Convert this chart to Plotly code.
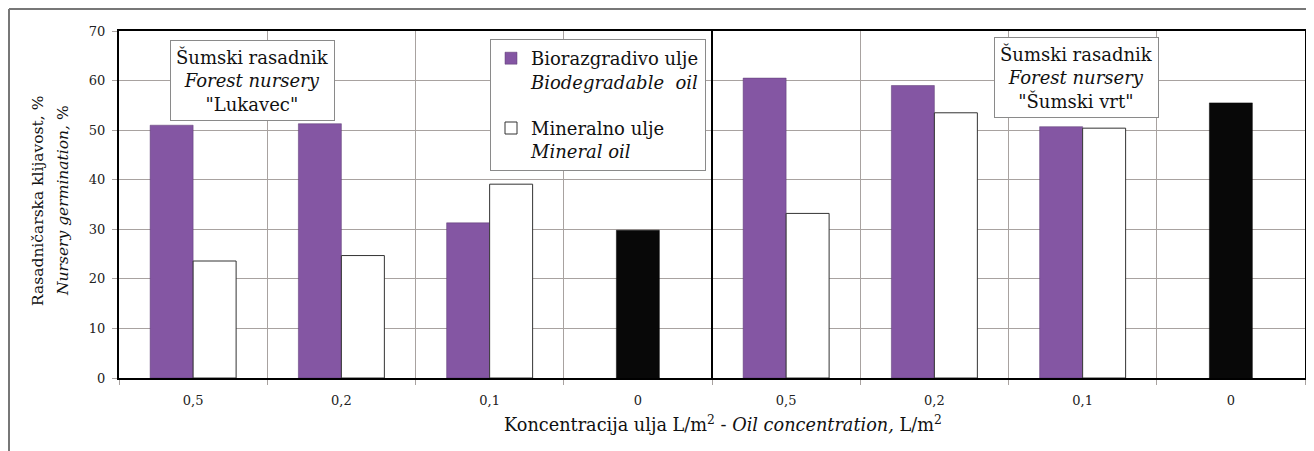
import plotly.graph_objects as go

categories = ["0,5", "0,2", "0,1", "0", "0,5", "0,2", "0,1", "0"]
biodegradable = [51.0, 51.3, 31.3, None, 60.5, 59.0, 50.7, None]
mineral = [23.6, 24.7, 39.1, None, 33.2, 53.5, 50.4, None]
control = [None, None, None, 29.8, None, None, None, 55.5]
y_ticks = [0, 10, 20, 30, 40, 50, 60, 70]

xpos = list(range(len(categories)))
FONT = "DejaVu Serif"
PURPLE = "#8456a3"
GRID = "#a8a2a0"
TXT = "#111111"
BW = 0.29

# page body has an 8px offset; figure is sized to fill the remaining window
OFF = 8
W, H = 1314 - OFF, 451 - OFF
L, T, R = 119 - OFF, 31 - OFF, 9
PW, PH = 1186, 347
B = H - T - PH


def px_x(x):
    return (x - OFF - L) / PW


def px_y(y):
    return (T + PH - (y - OFF)) / PH


fig = go.Figure()
fig.add_trace(go.Bar(
    x=xpos, y=biodegradable, name="Biorazgradivo ulje<br><i>Biodegradable  oil</i>",
    marker=dict(color=PURPLE, line=dict(color="#5a3a70", width=0.5)),
    offset=-BW, width=BW, legendgroup="a"))
fig.add_trace(go.Bar(
    x=xpos, y=mineral, name="Mineralno ulje<br><i>Mineral oil</i>",
    marker=dict(color="white", line=dict(color="#333333", width=1)),
    offset=0, width=BW, legendgroup="b"))
fig.add_trace(go.Bar(
    x=xpos, y=control, name="Kontrola", showlegend=False,
    marker=dict(color="#080808", line=dict(color="#080808", width=0.5)),
    offset=-BW / 2, width=BW))

fig.update_layout(
    width=W, height=H,
    margin=dict(l=L, r=R, t=T, b=B, autoexpand=False),
    paper_bgcolor="white", plot_bgcolor="white",
    barmode="overlay",
    font=dict(family=FONT, color="#222222", size=13),
    showlegend=True,
    legend=dict(
        x=px_x(490), y=px_y(39), xanchor="left", yanchor="top",
        bgcolor="white", bordercolor="#8a8a8a", borderwidth=1,
        font=dict(family=FONT, size=18, color=TXT),
        valign="top", traceorder="grouped", tracegroupgap=20,
    ),
    xaxis=dict(
        range=[-0.5, len(categories) - 0.5], automargin=False,
        tickmode="array", tickvals=xpos, ticktext=categories,
        showgrid=False, ticks="", zeroline=False,
        showline=True, mirror=True, linecolor="black", linewidth=2,
        tickfont=dict(family=FONT, size=13, color="#222222"),
        ticklabelstandoff=9,
        minor=dict(tickmode="linear", tick0=-0.5, dtick=1, showgrid=True,
                   gridcolor=GRID, gridwidth=1, ticks="outside", ticklen=5,
                   tickcolor=GRID),
    ),
    yaxis=dict(
        range=[0, 70], tickmode="array", tickvals=y_ticks, automargin=False,
        showgrid=True, gridcolor=GRID, gridwidth=1, zeroline=False,
        showline=True, mirror=True, linecolor="black", linewidth=2,
        ticks="outside", ticklen=5, tickcolor=GRID,
        tickfont=dict(family=FONT, size=13, color="#222222"),
        ticklabelstandoff=4,
    ),
)

# divider between the two nurseries
fig.add_shape(type="line", xref="x", yref="paper", x0=3.5, x1=3.5, y0=0, y1=1,
              line=dict(color="black", width=2), layer="above")

# outer frame (top and left)
fy = px_y(9)
fx = max(px_x(6), -L / PW + 1 / PW)
fig.add_shape(type="line", xref="paper", yref="paper", x0=fx, x1=px_x(1314),
              y0=fy, y1=fy, line=dict(color="#777777", width=2))
fig.add_shape(type="line", xref="paper", yref="paper", x0=fx, x1=fx,
              y0=fy, y1=px_y(452), line=dict(color="#777777", width=2))

# nursery boxes
box_style = dict(showarrow=False, font=dict(family=FONT, size=18, color=TXT),
                 bgcolor="white", bordercolor="#8a8a8a", borderwidth=1, borderpad=5,
                 align="center", xanchor="center", yanchor="middle",
                 xref="paper", yref="paper")
fig.add_annotation(x=px_x(252), y=px_y(80),
                   text="Šumski rasadnik<br><i>Forest nursery</i><br>\"Lukavec\"", **box_style)
fig.add_annotation(x=px_x(1076), y=px_y(77),
                   text="Šumski rasadnik<br><i>Forest nursery</i><br>\"Šumski vrt\"", **box_style)

# y axis title (two rotated lines)
ytitle_style = dict(xref="paper", yref="paper", textangle=-90, showarrow=False,
                    xanchor="center", yanchor="middle",
                    font=dict(family=FONT, size=15.5, color=TXT))
fig.add_annotation(x=px_x(38), y=px_y(201), text="Rasadničarska klijavost, %", **ytitle_style)
fig.add_annotation(x=px_x(63), y=px_y(201), text="<i>Nursery germination,</i> %", **ytitle_style)

# x axis title
fig.add_annotation(xref="paper", yref="paper", x=px_x(723), y=px_y(423),
                   text="Koncentracija ulja L/m<sup>2</sup> - <i>Oil concentration,</i> L/m<sup>2</sup>",
                   showarrow=False, xanchor="center", yanchor="middle",
                   font=dict(family=FONT, size=17.7, color=TXT))

fig.write_html("out.html")
